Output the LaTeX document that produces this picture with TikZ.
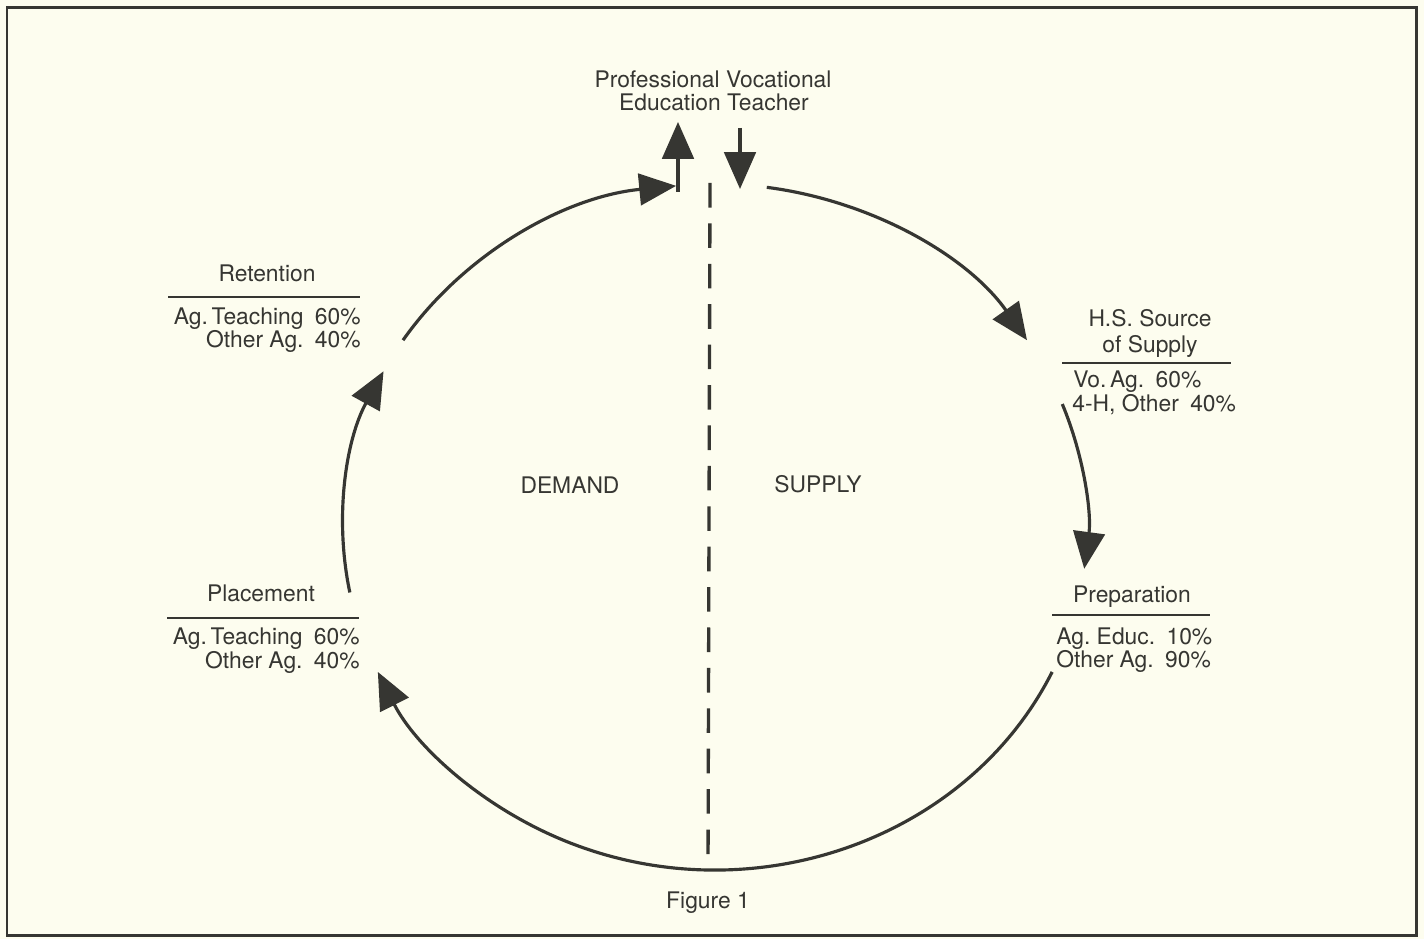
\documentclass[tikz,border=0pt]{standalone}
\usepackage{fontspec}
\setmainfont{TeX Gyre Heros}
\usepackage{xcolor}
\usetikzlibrary{arrows.meta}

\definecolor{paper}{HTML}{FDFDEF}
\definecolor{ink}{HTML}{363632}

\tikzset{
    lbl/.style={font=\fontsize{13}{15}\selectfont, text=ink, inner sep=0pt, anchor=base},
    cyc/.style={line width=1.8pt, draw=ink, -{Triangle[length=21pt, width=18pt]}},
    labelrule/.style={line width=1.2pt, draw=ink},
}

\begin{document}
\begin{tikzpicture}[x=0.02cm, y=0.02cm]
    % paper and frame
    \fill[paper] (0,0) rectangle (1424,939);
    \useasboundingbox (0,0) rectangle (1424,939);
    \draw[line width=1.7pt, ink] (7,3) rectangle (1416,931);

    % top label
    \node[lbl] (pvt1) at (713,851) {Professional Vocational};
    \node[lbl] (pvt2) at (714,828) {Education Teacher};

    % Retention
    \node[lbl] (ret) at (267,657) {Retention};
    \draw[labelrule] (168,642) -- (360,642);
    \node[lbl, anchor=base east] (ret1) at (361,614) {Ag.\,Teaching\enspace 60\%};
    \node[lbl, anchor=base east] (ret2) at (361,591) {Other Ag.\enspace 40\%};

    % H.S. source
    \node[lbl] (hs1) at (1150,612) {H.S. Source};
    \node[lbl] (hs2) at (1150,586) {of Supply};
    \draw[labelrule] (1062,576) -- (1231,576);
    \node[lbl, anchor=base west] (hs3) at (1073,551) {Vo.\,Ag.\enspace 60\%};
    \node[lbl, anchor=base west] (hs4) at (1072,527) {4-H, Other\enspace 40\%};

    % Preparation
    \node[lbl] (prep) at (1132,336) {Preparation};
    \draw[labelrule] (1052,324) -- (1210,324);
    \node[lbl, anchor=base west] (prep1) at (1056,294) {Ag.\ Educ.\enspace 10\%};
    \node[lbl, anchor=base west] (prep2) at (1056,271) {Other Ag.\enspace 90\%};

    % Placement
    \node[lbl] (plc) at (261,337) {Placement};
    \draw[labelrule] (167,321) -- (359,321);
    \node[lbl, anchor=base east] (plc1) at (360,294) {Ag.\,Teaching\enspace 60\%};
    \node[lbl, anchor=base east] (plc2) at (360,270) {Other Ag.\enspace 40\%};

    % halves
    \node[lbl] (dem) at (570,445) {DEMAND};
    \node[lbl] (sup) at (818,446) {SUPPLY};
    \node[lbl] (fig) at (708,30) {Figure 1};

    % the cycle
    \coordinate (c) at (715,412);
    \coordinate (s1) at ([shift={(82:372 and 343)}]c);
    \coordinate (s2) at ([shift={(21:372 and 343)}]c);
    \coordinate (s3) at ([shift={(-25:372 and 343)}]c);
    \coordinate (s4) at ([shift={(-169:372 and 343)}]c);
    \coordinate (s5) at ([shift={(-213:372 and 343)}]c);
    \draw[cyc] (s1) arc[start angle=82, end angle=33, x radius=372, y radius=343];
    \draw[cyc] (s2) arc[start angle=21, end angle=-7, x radius=372, y radius=343];
    \draw[cyc] (s3) arc[start angle=-25, end angle=-155, x radius=372, y radius=343];
    \draw[cyc] (s4) arc[start angle=-169, end angle=-207, x radius=372, y radius=343];
    \draw[cyc] (s5) arc[start angle=-213, end angle=-264, x radius=372, y radius=343];

    % out of and into the teacher
    \coordinate (upfoot) at (678,747);
    \coordinate (uptip) at (678,817);
    \coordinate (dntop) at (740,811);
    \coordinate (dntip) at (740,750);
    \draw[cyc] (upfoot) -- (uptip);
    \draw[cyc] (dntop) -- (dntip);

    % dividing line
    \coordinate (divtop) at (710,756);
    \coordinate (divbot) at (708,69);
    \draw[line width=1.9pt, ink, dash pattern=on 14pt off 9pt] (divtop) -- (divbot);
\end{tikzpicture}
\end{document}
